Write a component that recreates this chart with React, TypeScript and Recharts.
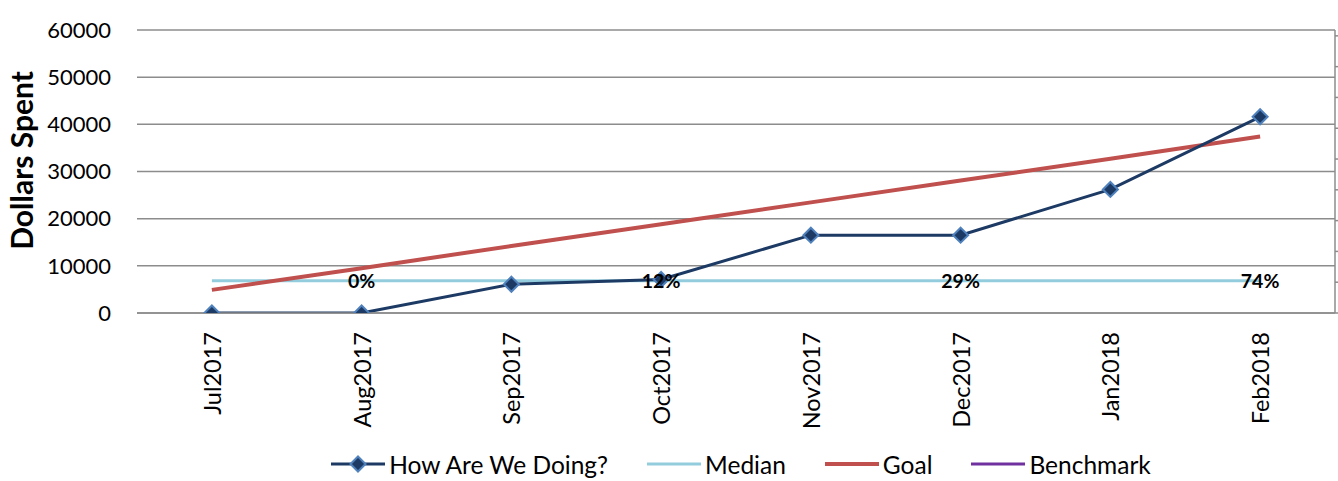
import React from 'react';
import { LineChart, Line, XAxis, YAxis, ReferenceLine, Legend, LabelList } from 'recharts';

const months = ['Jul2017', 'Aug2017', 'Sep2017', 'Oct2017', 'Nov2017', 'Dec2017', 'Jan2018', 'Feb2018'];
const actual = [0, 0, 6100, 7100, 16500, 16500, 26200, 41600];
const median = [6850, 6850, 6850, 6850, 6850, 6850, 6850, 6850];
const goal = [4900, 9500, 14200, 18800, 23450, 28100, 32700, 37400];
const benchmark: (number | null)[] = [null, null, null, null, null, null, null, null];
const pctLabels = ['', '0%', '', '12%', '', '29%', '', '74%'];
const yTicks = [0, 10000, 20000, 30000, 40000, 50000, 60000];
const rightTicks = [0, 1, 2, 3, 4, 5, 6, 7, 8, 9];
const YMAX = 60000;
const RMAX = 9.19;

const data = months.map((m, i) => ({
  month: m,
  actual: actual[i],
  median: median[i],
  goal: goal[i],
  benchmark: benchmark[i],
  pct: pctLabels[i],
}));

const FONT = 'Lato, "Open Sans", sans-serif';
const GRID = '#8C8C8C';

const Diamond = (props: any) => {
  const { cx, cy, index } = props;
  if (cx == null || cy == null) return null;
  const r = 7.5;
  return (
    <polygon
      key={`d-${index}`}
      points={`${cx},${cy - r} ${cx + r},${cy} ${cx},${cy + r} ${cx - r},${cy}`}
      fill="#1C3A64"
      stroke="#4F81BD"
      strokeWidth={2}
    />
  );
};

const XTick = (props: any) => {
  const { x, y, payload } = props;
  return (
    <g transform={`translate(${x},${y})`}>
      <text
        transform="rotate(-90)"
        textAnchor="end"
        dominantBaseline="central"
        fontFamily={FONT}
        fontSize={23.5}
        fill="#000"
      >
        {payload.value}
      </text>
    </g>
  );
};

const YTitle = (props: any) => {
  const vb = props.viewBox || {};
  const cx = (vb.x || 0) + 21;
  const cy = (vb.y || 0) + (vb.height || 0) / 2 - 11;
  return (
    <text
      x={cx}
      y={cy}
      transform={`rotate(-90, ${cx}, ${cy})`}
      textAnchor="middle"
      dominantBaseline="central"
      fontFamily={FONT}
      fontWeight="bold"
      fontSize={30}
      fill="#000"
    >
      Dollars Spent
    </text>
  );
};

const PctLabel = (props: any) => {
  const { x, y, value } = props;
  if (!value) return null;
  return (
    <text
      x={x}
      y={y}
      textAnchor="middle"
      dominantBaseline="central"
      fontFamily={FONT}
      fontWeight="bold"
      fontSize={19.5}
      fill="#000"
    >
      {value}
    </text>
  );
};

const legendItems = [
  { name: 'How Are We Doing?', color: '#1C3A64', width: 3, marker: true },
  { name: 'Median', color: '#93CDDD', width: 3, marker: false },
  { name: 'Goal', color: '#C0504D', width: 4, marker: false },
  { name: 'Benchmark', color: '#7030A0', width: 3, marker: false },
];

const renderLegend = () => (
  <div
    style={{
      display: 'flex',
      justifyContent: 'center',
      alignItems: 'center',
      height: 40,
      fontFamily: FONT,
      fontSize: 24.5,
      color: '#000',
    }}
  >
    {legendItems.map((it, i) => (
      <div key={it.name} style={{ display: 'flex', alignItems: 'center', marginLeft: i === 0 ? 0 : 39 }}>
        <svg width={54} height={20} style={{ marginRight: 4 }}>
          <line x1={0} y1={10} x2={54} y2={10} stroke={it.color} strokeWidth={it.width} />
          {it.marker && (
            <polygon points="27,2.5 34.5,10 27,17.5 19.5,10" fill="#1C3A64" stroke="#4F81BD" strokeWidth={2} />
          )}
        </svg>
        <span>{it.name}</span>
      </div>
    ))}
  </div>
);

export default function App() {
  return (
    <div style={{ position: 'absolute', left: 0, top: 0, width: 1338, height: 481, background: '#fff' }}>
      <LineChart width={1338} height={481} data={data} margin={{ top: 30, right: 0, bottom: 0, left: 0 }}>
        {yTicks.map((t) => (
          <ReferenceLine key={`g-${t}`} yAxisId="left" y={t} stroke={GRID} strokeWidth={1.5} />
        ))}
        <XAxis
          dataKey="month"
          scale="band"
          interval={0}
          height={128}
          tickLine={false}
          tickMargin={13}
          axisLine={{ stroke: GRID, strokeWidth: 1.5 }}
          tick={<XTick />}
        />
        <YAxis
          yAxisId="left"
          width={137}
          domain={[0, YMAX]}
          ticks={yTicks}
          interval={0}
          allowDataOverflow
          axisLine={false}
          tickLine={false}
          tickSize={6}
          tickMargin={20}
          tick={{ fontFamily: FONT, fontSize: 22, fill: '#000' }}
          label={<YTitle />}
        />
        <YAxis
          yAxisId="right"
          orientation="right"
          width={3}
          domain={[0, RMAX]}
          ticks={rightTicks}
          interval={0}
          allowDataOverflow
          axisLine={{ stroke: GRID, strokeWidth: 1.5 }}
          tickLine={{ stroke: GRID, strokeWidth: 1.5 }}
          tickSize={5}
          tickFormatter={() => ''}
        />
        <Legend
          verticalAlign="bottom"
          height={40}
          content={renderLegend}
          wrapperStyle={{ left: 142, width: 1198, bottom: -3 }}
        />
        <Line
          yAxisId="left"
          dataKey="median"
          name="Median"
          stroke="#93CDDD"
          strokeWidth={3}
          dot={false}
          activeDot={false}
          isAnimationActive={false}
        />
        <Line
          yAxisId="left"
          dataKey="goal"
          name="Goal"
          stroke="#C0504D"
          strokeWidth={4}
          dot={false}
          activeDot={false}
          isAnimationActive={false}
        />
        <Line
          yAxisId="left"
          dataKey="benchmark"
          name="Benchmark"
          stroke="#7030A0"
          strokeWidth={3}
          dot={false}
          activeDot={false}
          isAnimationActive={false}
        />
        <Line
          yAxisId="left"
          dataKey="actual"
          name="How Are We Doing?"
          stroke="#1C3A64"
          strokeWidth={3}
          dot={<Diamond />}
          activeDot={false}
          isAnimationActive={false}
        />
        <Line
          yAxisId="left"
          dataKey="median"
          stroke="none"
          dot={false}
          activeDot={false}
          legendType="none"
          isAnimationActive={false}
        >
          <LabelList dataKey="pct" content={<PctLabel />} />
        </Line>
      </LineChart>
    </div>
  );
}
